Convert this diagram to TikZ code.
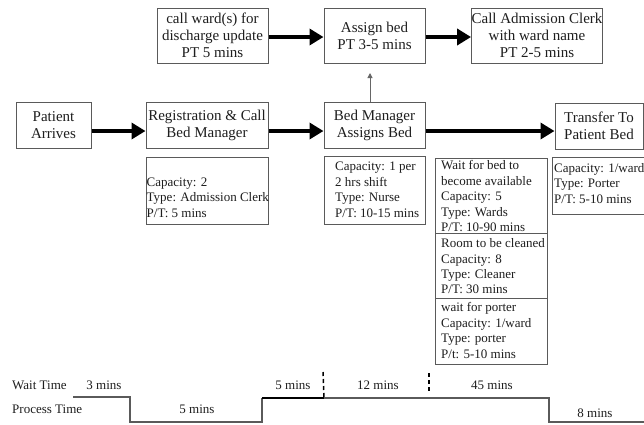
\documentclass[tikz,border=0pt]{standalone}
\usepackage{fontspec}
\setmainfont{Liberation Serif}
\usetikzlibrary{arrows.meta}
\definecolor{boxgray}{HTML}{5A5A5A}
\definecolor{txt}{HTML}{1E1E1E}
\tikzset{
  mainbox/.style={draw=boxgray, line width=1pt, inner sep=0pt, align=center, text=txt,
    font=\fontsize{15}{17}\selectfont},
  framebox/.style={draw=boxgray, line width=1pt, inner sep=0pt, anchor=north west},
  infotext/.style={inner sep=0pt, anchor=north west, align=left, text=txt,
    font=\fontsize{13}{15.4}\selectfont},
  tltext/.style={inner sep=0pt, text=txt, font=\fontsize{13}{15}\selectfont},
  bigarrow/.style={line width=4.3pt, -{Triangle[length=14pt,width=16pt]}},
  thinarrow/.style={draw=gray!80!black, line width=1pt, -{Triangle[length=5pt,width=5pt]}},
  tline/.style={draw=boxgray, line width=1.2pt},
}
\begin{document}
\begin{tikzpicture}[x=1pt,y=-1pt]
\useasboundingbox (0,0) rectangle (644,424);
\fill[white] (0,0) rectangle (644,424);
% main row
\node[mainbox, minimum width=75, minimum height=46] (pa) at (53.5,125) {Patient\\Arrives};
\node[mainbox, minimum width=122, minimum height=46] (reg) at (207,125) {Registration \& Call\\Bed Manager};
\node[mainbox, minimum width=101, minimum height=46] (bm) at (374.5,125) {Bed Manager\\Assigns Bed};
\node[mainbox, minimum width=88, minimum height=46] (tr) at (599,126) {Transfer To\\Patient Bed};
% top row
\node[mainbox, minimum width=111, minimum height=55] (cw) at (212.5,35.5) {call ward(s) for\\discharge update\\PT 5 mins};
\node[mainbox, minimum width=101, minimum height=55] (ab) at (374.5,35.5) {Assign bed\\PT 3-5 mins};
\node[mainbox, minimum width=130, minimum height=55] (ca) at (537,35.5) {Call Admission Clerk\\with ward name\\PT 2-5 mins};
% arrows
\draw[bigarrow] ([yshift=-6pt]pa.east) -- ([yshift=-6pt]reg.west);
\draw[bigarrow] ([yshift=-6pt]reg.east) -- ([yshift=-6pt]bm.west);
\draw[bigarrow] ([yshift=-6pt]bm.east) -- ([yshift=-5pt]tr.west);
\draw[bigarrow] ([yshift=-1.5pt]cw.east) -- ([yshift=-1.5pt]ab.west);
\draw[bigarrow] ([yshift=-1.5pt]ab.east) -- ([yshift=-1.5pt]ca.west);
\coordinate (abtip) at (370,73);
\draw[thinarrow] (bm.north -| abtip) -- (abtip);
% info boxes
\node[framebox, minimum width=122, minimum height=67] (ri) at (146,157) {};
\node[infotext] (rit) at (146.5,177.5) {Capacity: 2\\Type: Admission Clerk\\P/T: 5 mins};
\node[framebox, minimum width=101, minimum height=68] (bi) at (324,156) {};
\node[infotext] (bit) at (335,162) {Capacity: 1 per\\2 hrs shift\\Type: Nurse\\P/T: 10-15 mins};
\node[framebox, minimum width=112, minimum height=75] (w1) at (435,158) {};
\node[framebox, minimum width=112, minimum height=65] (w2) at (435,233) {};
\node[framebox, minimum width=112, minimum height=66] (w3) at (435,298) {};
\node[infotext] (w1t) at (441,160.5) {Wait for bed to\\become available\\Capacity: 5\\Type: Wards\\P/T: 10-90 mins};
\node[infotext] (w2t) at (441,238.5) {Room to be cleaned\\Capacity: 8\\Type: Cleaner\\P/T: 30 mins};
\node[infotext] (w3t) at (441,302.5) {wait for porter\\Capacity: 1/ward\\Type: porter\\P/t: 5-10 mins};
\coordinate (ti1) at (652,157);
\coordinate (ti2) at (552,157);
\coordinate (ti3) at (552,214);
\coordinate (ti4) at (652,214);
\draw[draw=boxgray, line width=1pt] (ti1) -- (ti2) -- (ti3) -- (ti4);
\node[infotext] (tit) at (554,163) {Capacity: 1/ward\\Type: Porter\\P/T: 5-10 mins};
% timeline
\node[tltext, anchor=west] (wt) at (12,385) {Wait Time};
\node[tltext, anchor=west] (pt) at (12,409) {Process Time};
\node[tltext] (l3) at (104,385) {3 mins};
\node[tltext] (l5a) at (197,409) {5 mins};
\node[tltext] (l5b) at (293,385) {5 mins};
\node[tltext] (l12) at (378,385) {12 mins};
\node[tltext] (l45) at (492,385) {45 mins};
\node[tltext] (l8) at (595,413) {8 mins};
\coordinate (t0) at (73,397);
\coordinate (t1) at (130,397);
\coordinate (t2) at (130,422);
\coordinate (t3) at (262,422);
\coordinate (t4) at (262,398);
\coordinate (t5) at (324,398);
\coordinate (t6) at (549,398);
\coordinate (t7) at (549,422);
\coordinate (t8) at (644,422);
\draw[tline] (t0) -- (t1) -- (t2) -- (t3) -- (t4);
\draw[tline, draw=black, line width=1.6pt] (t4) -- (t5);
\draw[tline] (t5) -- (t6) -- (t7) -- (t8);
\coordinate (d1) at (323,372);
\coordinate (d2) at (429,373);
\coordinate (d2b) at (429,392);
\draw[draw=black, line width=1.5pt, dash pattern=on 4pt off 3pt] (d1) -- (t5);
\draw[draw=black, line width=1.5pt, dash pattern=on 4pt off 3pt] (d2) -- (d2b);
\end{tikzpicture}
\end{document}
